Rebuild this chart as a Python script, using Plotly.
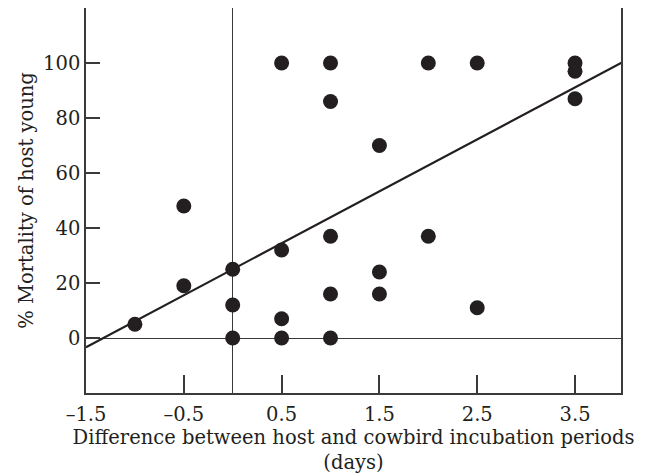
import plotly.graph_objects as go

# Data
diff_days = [-1.0, -0.5, -0.5, 0.0, 0.0, 0.0, 0.5, 0.5, 0.5, 0.5,
             1.0, 1.0, 1.0, 1.0, 1.0, 1.5, 1.5, 1.5, 2.0, 2.0,
             2.5, 2.5, 3.5, 3.5, 3.5]
mortality = [5, 48, 19, 25, 12, 0, 100, 32, 7, 0,
             100, 86, 37, 16, 0, 70, 24, 16, 100, 37,
             100, 11, 100, 97, 87]

fit_slope = 18.9
fit_intercept = 25.0
fit_x = [-1.5, 4.0]
fit_y = [fit_intercept + fit_slope * v for v in fit_x]

x_tickvals = [-1.5, -0.5, 0.5, 1.5, 2.5, 3.5]
x_ticktext = ["–1.5", "–0.5", "0.5", "1.5", "2.5", "3.5"]
y_tickvals = [-20, 0, 20, 40, 60, 80, 100, 120]
y_ticktext = ["", "0", "20", "40", "60", "80", "100", ""]

FONT = "DejaVu Serif"
FS = 19.5
INK = "#231f20"
AXIS = "#3a3a3a"

fig = go.Figure()
fig.add_trace(go.Scatter(x=fit_x, y=fit_y, mode="lines",
                         line=dict(color=INK, width=2.2), hoverinfo="skip"))
fig.add_trace(go.Scatter(x=diff_days, y=mortality, mode="markers",
                         marker=dict(size=15, color=INK, line=dict(width=0))))

# page body has an 8px margin, so the figure is 8px smaller and margins shifted
fig.update_layout(
    width=637, height=466,
    margin=dict(l=78, r=24, t=0, b=81),
    paper_bgcolor="white", plot_bgcolor="white",
    showlegend=False,
    font=dict(family=FONT, size=FS, color=INK),
)
fig.update_xaxes(
    range=[-1.5, 3.97], tickvals=x_tickvals, ticktext=x_ticktext,
    ticks="inside", ticklen=18, tickwidth=1.5, tickcolor=AXIS,
    showline=True, linecolor=AXIS, linewidth=1.5, mirror=True,
    showgrid=False, zeroline=True, zerolinecolor=AXIS, zerolinewidth=1.2,
    ticklabelstandoff=3, automargin=False,
    title=dict(text="Difference between host and cowbird incubation periods<br>(days)",
               font=dict(family=FONT, size=FS, color=INK), standoff=12),
    tickfont=dict(family=FONT, size=FS, color=INK),
)
fig.update_yaxes(
    range=[-20, 120], tickvals=y_tickvals, ticktext=y_ticktext,
    ticks="inside", ticklen=14, tickwidth=1.5, tickcolor=AXIS,
    showline=True, linecolor=AXIS, linewidth=1.5, mirror=True,
    showgrid=False, zeroline=True, zerolinecolor=AXIS, zerolinewidth=1.2,
    automargin=False,
    title=dict(text="% Mortality of host young",
               font=dict(family=FONT, size=FS, color=INK), standoff=4),
    tickfont=dict(family=FONT, size=FS, color=INK),
)

fig.write_html("out.html")
